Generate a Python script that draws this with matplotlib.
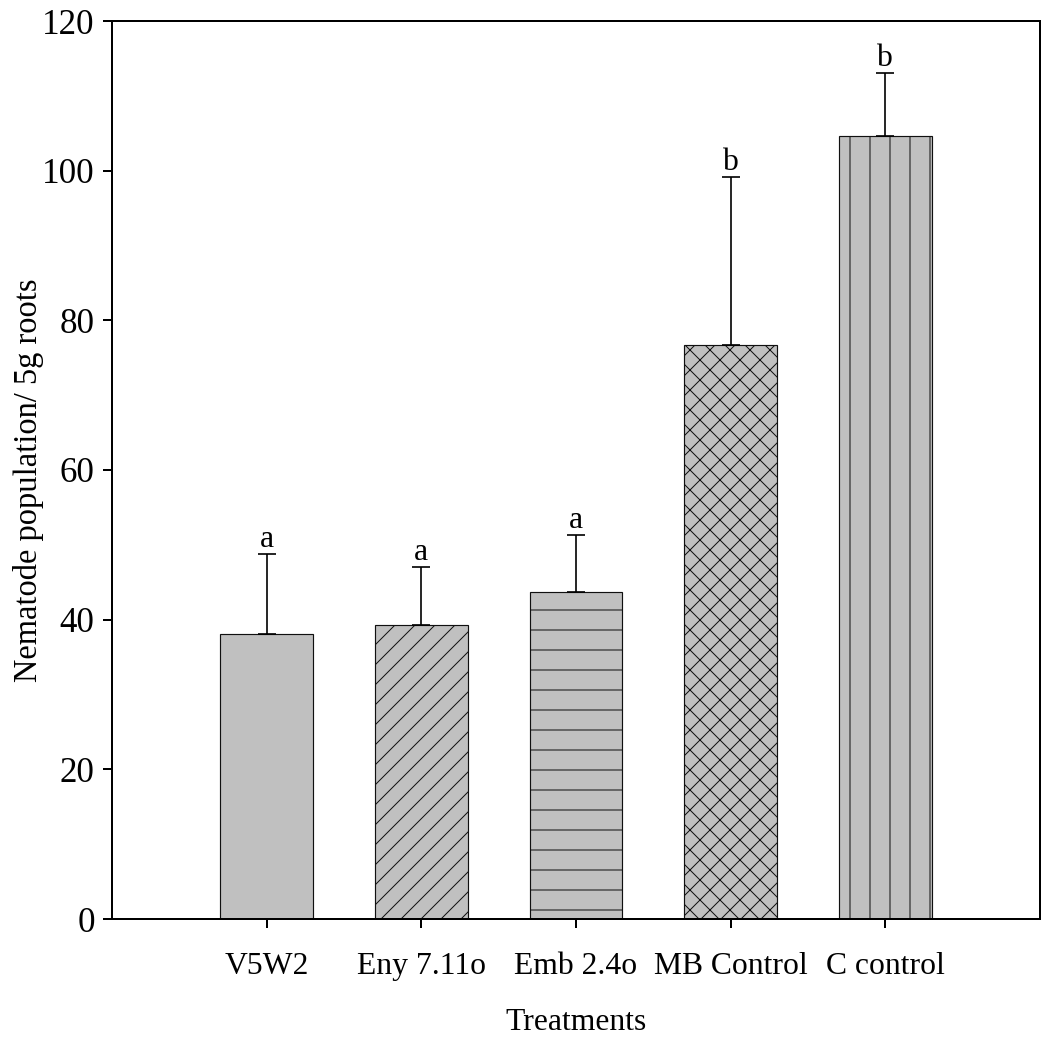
import numpy as np
import matplotlib
matplotlib.use('Agg')
from matplotlib import pyplot as plt

treatments = ['V5W2', 'Eny 7.11o', 'Emb 2.4o', 'MB Control', 'C control']
means = [38.1, 39.3, 43.7, 76.7, 104.6]
errors = [10.7, 7.7, 7.6, 22.4, 8.5]
letters = ['a', 'a', 'a', 'b', 'b']
hatches = ['', '//', '-', 'xx', '|']

plt.rcParams['font.family'] = ['Liberation Serif', 'DejaVu Serif']
plt.rcParams['hatch.linewidth'] = 0.6
plt.rcParams['hatch.color'] = 'black'

DPI = 120
fig = plt.figure(figsize=(1042 / DPI, 1042 / DPI), dpi=DPI)
ax = fig.add_axes([112 / 1042, 1 - 919 / 1042, 928 / 1042, 898 / 1042])

x = np.arange(len(treatments))
bars = ax.bar(x, means, width=0.6, color='#c0c0c0', edgecolor='#101010',
              linewidth=0.7, zorder=2)
for b, h in zip(bars, hatches):
    b.set_hatch(h)

ax.errorbar(x, means, yerr=[np.zeros(len(errors)), errors], fmt='none',
            ecolor='black', elinewidth=1.0, capsize=5.4, capthick=1.0, zorder=3)

# significance letters sit right on the caps
for xi, m, e, t in zip(x, means, errors, letters):
    ax.annotate(t, (xi, m + e), xytext=(0, 0), textcoords='offset points',
                ha='center', va='bottom', fontsize=19)

ax.set_xlim(-1, 5)
ax.set_ylim(0, 120)
ax.set_yticks(np.arange(0, 121, 20))
ax.set_xticks(x)
ax.set_xticklabels(treatments)

for s in ax.spines.values():
    s.set_linewidth(1.2)
ax.tick_params(axis='both', direction='out', length=5.4, width=1.2)
ax.tick_params(axis='x', pad=14.5, labelsize=19)
ax.tick_params(axis='y', pad=5, labelsize=21)

ax.set_xlabel('Treatments', fontsize=19)
ax.set_ylabel('Nematode population/ 5g roots', fontsize=19.5)
ax.xaxis.set_label_coords(0.5, -0.099)
ax.yaxis.set_label_coords(-0.073, 0.489)

fig.savefig('out.png', dpi=DPI)
